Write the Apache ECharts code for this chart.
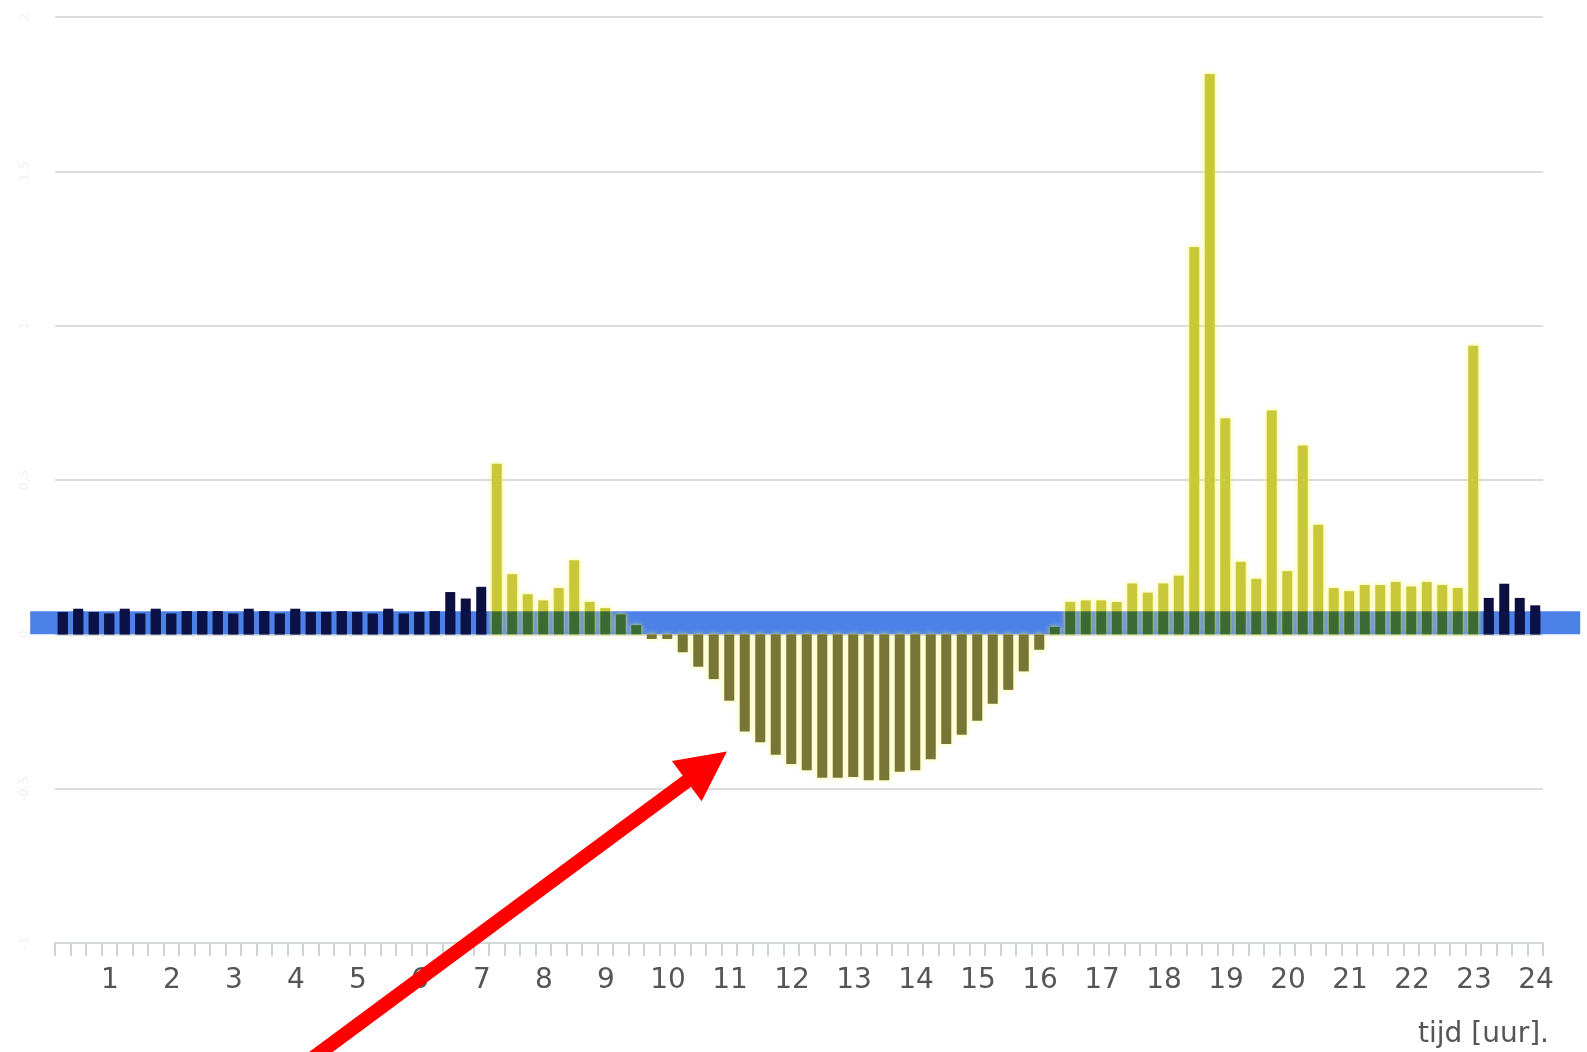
<!DOCTYPE html>
<html>
<head>
<meta charset="utf-8">
<script src="https://cdn.jsdelivr.net/npm/echarts@6/dist/echarts.min.js"></script>
<style>html,body{margin:0;padding:0;background:#fff}#c{width:1587px;height:1052px}</style>
</head>
<body>
<div id="c"></div>
<script>
// Net electricity per quarter hour (kW), 00:00 - 24:00 (96 quarters)
const usage = [
  0.072,0.083,0.072,0.067,0.083,0.067,0.083,0.067,0.075,0.075,0.075,0.067,0.083,0.075,0.067,0.083,
  0.072,0.072,0.075,0.072,0.067,0.083,0.067,0.072,0.075,0.137,0.116,0.154,
  0.553,0.195,0.130,0.110,0.150,0.240,0.105,0.085,0.065,0.030,
  -0.015,-0.015,-0.058,-0.105,-0.145,-0.215,-0.315,-0.350,-0.390,-0.420,-0.440,-0.465,-0.465,
  -0.462,-0.473,-0.473,-0.445,-0.440,-0.405,-0.355,-0.325,-0.280,-0.225,-0.180,-0.120,-0.050,
  0.024,0.105,0.110,0.110,0.105,0.165,0.135,0.165,0.190,
  1.255,1.815,0.700,0.235,0.180,0.725,0.205,0.612,0.355,0.150,0.140,0.160,0.160,0.170,0.155,0.170,
  0.160,0.150,0.935,
  0.118,0.164,0.118,0.094
];
// Day tariff period (hours)
const dayStartHour = 7;
const dayEndHour = 23;
// Base-load band (kW) and its horizontal extent (hours)
const baseBand = [0, 0.0745];
const bandSpan = [-0.4, 24.6];
// Y ticks (kW)
const yMin = -1, yMax = 2, yStep = 0.5;
// Annotation arrow (hours, kW): tail -> head
const arrowCoords = [[3.67, -1.445], [10.514, -0.4275]];
const axisTitle = 'tijd [uur].';

const quarterCentres = usage.map((_, i) => (i + 0.5) / 4);
const isNight = i => quarterCentres[i] < dayStartHour || quarterCentres[i] > dayEndHour;

function itemStyleFor(i, v) {
  if (isNight(i)) return { color: '#0b1040' };
  if (v >= 0) return { color: '#c8c83a', shadowBlur: 5, shadowColor: 'rgba(250,250,90,0.85)' };
  return { color: '#787636', shadowBlur: 5, shadowColor: 'rgba(250,250,110,0.85)' };
}

const barData = usage.map((v, i) => ({ value: [quarterCentres[i], v], itemStyle: itemStyleFor(i, v) }));
// portion of each positive bar that lies inside the base-load band
const inBandData = usage.map((v, i) => ({
  value: [quarterCentres[i], v > 0 ? Math.min(v, baseBand[1]) : 0],
  itemStyle: { color: isNight(i) ? '#0a1248' : '#3b6a34' }
}));

const chart = echarts.init(document.getElementById('c'), null, { renderer: 'canvas' });
chart.setOption({
  backgroundColor: '#ffffff',
  animation: false,
  title: {
    text: axisTitle, right: 33, top: 1016,
    textStyle: { fontFamily: 'DejaVu Sans', fontSize: 28, fontWeight: 'normal', color: '#555' }
  },
  grid: { left: 55, right: 44, top: 17, bottom: 109 },
  xAxis: {
    type: 'value', min: 0, max: 24, interval: 1,
    axisLine: { onZero: false, lineStyle: { color: '#d3dada', width: 2 } },
    axisTick: { show: true, length: 13, lineStyle: { color: '#cdd4d4', width: 2 } },
    minorTick: { show: true, splitNumber: 4, length: 13, lineStyle: { color: '#cdd4d4', width: 2 } },
    splitLine: { show: false },
    axisLabel: {
      formatter: v => (v === 0 ? '' : String(v)),
      margin: 24, fontSize: 28, fontFamily: 'DejaVu Sans', color: '#555',
      padding: [0, 14, 0, 0]
    }
  },
  yAxis: {
    type: 'value', min: yMin, max: yMax, interval: yStep,
    axisLine: { show: false }, axisTick: { show: false },
    splitLine: { lineStyle: { color: '#dcdcdc', width: 2 } },
    axisLabel: {
      color: '#f0f0f0', fontSize: 13, rotate: 90, margin: 24, fontFamily: 'DejaVu Sans',
      formatter: v => String(v).replace('.', ',')
    }
  },
  series: [
    {
      type: 'custom', z: 1, silent: true, clip: false,
      encode: { x: [0, 1], y: [2, 3] },
      data: [[bandSpan[0], bandSpan[1], baseBand[0], baseBand[1]]],
      renderItem: function (params, api) {
        const p0 = api.coord([api.value(0), api.value(3)]);
        const p1 = api.coord([api.value(1), api.value(2)]);
        return {
          type: 'rect',
          shape: { x: p0[0], y: p0[1], width: p1[0] - p0[0], height: p1[1] - p0[1] },
          style: { fill: '#4c82e8' }
        };
      }
    },
    {
      type: 'bar', data: barData, barWidth: 10, barGap: '-100%', z: 2, silent: true
    },
    {
      type: 'bar', data: inBandData, barWidth: 10, barGap: '-100%', z: 3, silent: true
    },
    {
      type: 'lines', coordinateSystem: 'cartesian2d', clip: false, z: 5, silent: true,
      data: [{ coords: arrowCoords }],
      lineStyle: { color: '#ff0000', width: 14, opacity: 1, curveness: 0 },
      symbol: ['none', 'triangle'], symbolSize: 50
    }
  ]
});
</script>
</body>
</html>
